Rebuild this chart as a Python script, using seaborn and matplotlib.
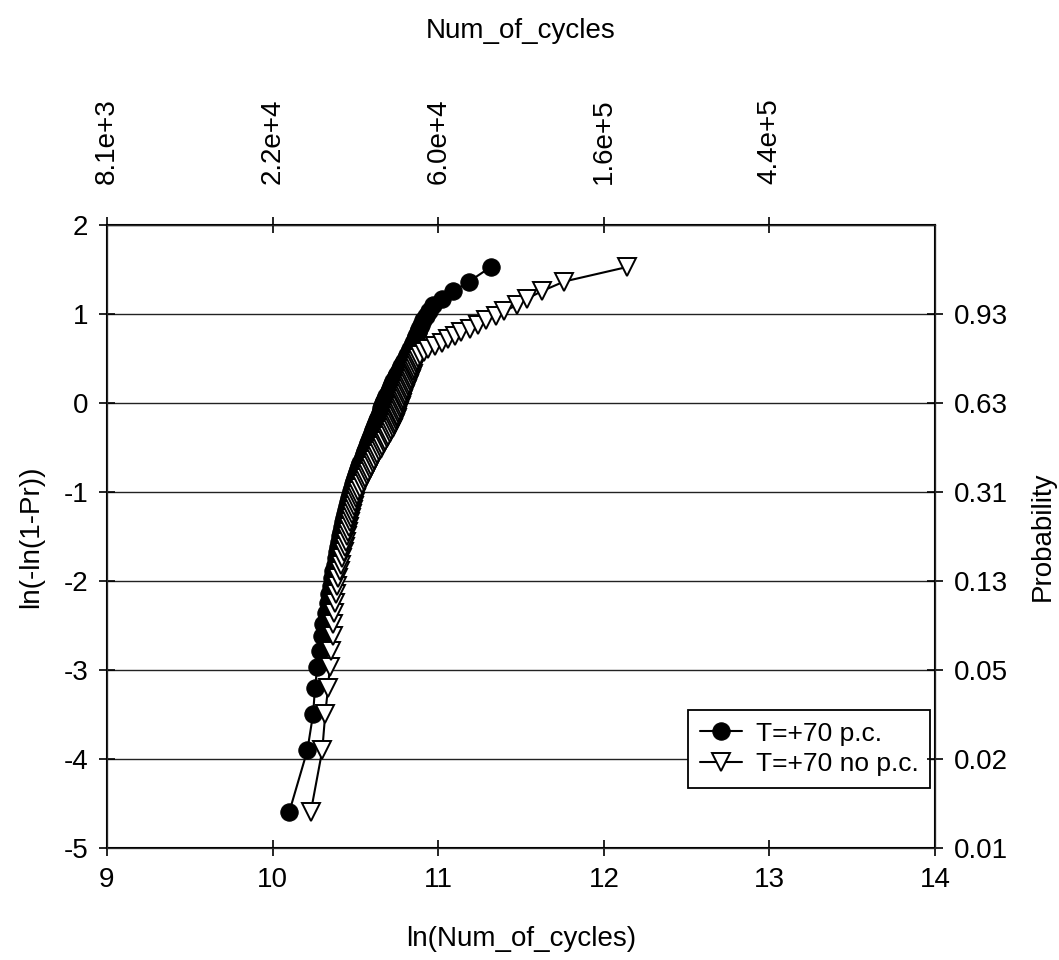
import numpy as np
import pandas as pd
import matplotlib
matplotlib.use("Agg")
import matplotlib.pyplot as plt
import seaborn as sns

# Weibull plotting positions ln(-ln(1-Pr)) shared by both series (99 points)
y_vals = [
    -4.600, -3.902, -3.491, -3.199, -2.970, -2.783, -2.623, -2.484, -2.361, -2.250,
    -2.150, -2.057, -1.971, -1.892, -1.817, -1.747, -1.680, -1.617, -1.557, -1.500,
    -1.445, -1.392, -1.342, -1.293, -1.246, -1.200, -1.156, -1.113, -1.071, -1.031,
    -0.991, -0.953, -0.915, -0.878, -0.842, -0.807, -0.772, -0.738, -0.705, -0.672,
    -0.639, -0.608, -0.576, -0.545, -0.514, -0.484, -0.454, -0.425, -0.396, -0.367,
    -0.338, -0.309, -0.281, -0.253, -0.225, -0.197, -0.170, -0.142, -0.115, -0.087,
    -0.060, -0.033, -0.006, 0.021, 0.049, 0.076, 0.103, 0.131, 0.158, 0.186,
    0.213, 0.241, 0.270, 0.298, 0.327, 0.356, 0.385, 0.415, 0.445, 0.476,
    0.507, 0.539, 0.572, 0.606, 0.640, 0.676, 0.713, 0.752, 0.792, 0.834,
    0.879, 0.927, 0.978, 1.034, 1.097, 1.169, 1.255, 1.364, 1.527,
]

# ln(Num_of_cycles), T=+70 p.c.
x_pc = [
    10.100, 10.210, 10.245, 10.256, 10.270, 10.286, 10.296, 10.306, 10.320, 10.332,
    10.342, 10.352, 10.360, 10.367, 10.374, 10.381, 10.388, 10.394, 10.400, 10.407,
    10.413, 10.419, 10.425, 10.431, 10.437, 10.443, 10.449, 10.455, 10.461, 10.467,
    10.473, 10.479, 10.485, 10.491, 10.497, 10.503, 10.510, 10.516, 10.523, 10.530,
    10.537, 10.544, 10.551, 10.558, 10.565, 10.572, 10.579, 10.585, 10.591, 10.597,
    10.603, 10.609, 10.615, 10.620, 10.626, 10.631, 10.637, 10.642, 10.647, 10.652,
    10.657, 10.662, 10.667, 10.673, 10.680, 10.687, 10.694, 10.701, 10.708, 10.715,
    10.722, 10.729, 10.737, 10.745, 10.753, 10.761, 10.769, 10.777, 10.786, 10.795,
    10.804, 10.813, 10.822, 10.831, 10.840, 10.849, 10.858, 10.867, 10.877, 10.887,
    10.898, 10.910, 10.925, 10.945, 10.970, 11.020, 11.090, 11.186, 11.317,
]

# ln(Num_of_cycles), T=+70 no p.c.
x_nopc = [
    10.230, 10.300, 10.318, 10.335, 10.345, 10.355, 10.362, 10.367, 10.372, 10.377,
    10.382, 10.388, 10.395, 10.404, 10.413, 10.421, 10.429, 10.436, 10.443, 10.450,
    10.457, 10.463, 10.469, 10.475, 10.481, 10.487, 10.492, 10.498, 10.503, 10.508,
    10.518, 10.529, 10.539, 10.549, 10.559, 10.569, 10.578, 10.588, 10.597, 10.606,
    10.615, 10.624, 10.633, 10.642, 10.652, 10.662, 10.671, 10.680, 10.690, 10.699,
    10.708, 10.717, 10.726, 10.733, 10.739, 10.744, 10.749, 10.754, 10.759, 10.764,
    10.769, 10.774, 10.779, 10.784, 10.790, 10.795, 10.801, 10.806, 10.812, 10.817,
    10.822, 10.828, 10.834, 10.840, 10.845, 10.850, 10.855, 10.860, 10.866, 10.872,
    10.880, 10.892, 10.912, 10.940, 10.980, 11.020, 11.060, 11.100, 11.140, 11.190,
    11.240, 11.290, 11.350, 11.400, 11.474, 11.534, 11.625, 11.760, 12.140,
]

series_names = ["T=+70 p.c.", "T=+70 no p.c."]
x_ticks = [9, 10, 11, 12, 13, 14]
y_ticks = [-5, -4, -3, -2, -1, 0, 1, 2]
top_ticks = [9, 10, 11, 12, 13]
top_labels = ["8.1e+3", "2.2e+4", "6.0e+4", "1.6e+5", "4.4e+5"]
prob_ticks = [-5, -4, -3, -2, -1, 0, 1]
prob_labels = ["0.01", "0.02", "0.05", "0.13", "0.31", "0.63", "0.93"]

sns.set_style("white")
plt.rcParams["font.family"] = ["Liberation Sans", "DejaVu Sans"]
plt.rcParams["axes.unicode_minus"] = False
plt.rcParams["text.color"] = "black"
plt.rcParams["axes.labelcolor"] = "black"
plt.rcParams["xtick.color"] = "black"
plt.rcParams["ytick.color"] = "black"
FS = 20

df = pd.DataFrame({
    "x": x_pc + x_nopc,
    "y": y_vals + y_vals,
    "series": [series_names[0]] * len(x_pc) + [series_names[1]] * len(x_nopc),
})

fig = plt.figure(figsize=(10.59, 9.60), dpi=100)
ax = fig.add_axes([0.101, 0.1167, 0.782, 0.649])

sns.lineplot(data=df[df["series"] == series_names[0]], x="x", y="y",
             sort=False, estimator=None, color="black", linewidth=1.5,
             marker="o", markersize=12.5, markerfacecolor="black",
             markeredgecolor="black", label=series_names[0], ax=ax, zorder=3)
sns.lineplot(data=df[df["series"] == series_names[1]], x="x", y="y",
             sort=False, estimator=None, color="black", linewidth=1.5,
             marker="v", markersize=12.5, markerfacecolor="white",
             markeredgecolor="black", markeredgewidth=1.4,
             label=series_names[1], ax=ax, zorder=4)

ax.set_xlim(9, 14)
ax.set_ylim(-5, 2)
ax.set_xticks(x_ticks)
ax.set_yticks(y_ticks)
ax.set_xlabel("ln(Num_of_cycles)", fontsize=FS, labelpad=24)
ax.set_ylabel("ln(-ln(1-Pr))", fontsize=FS, labelpad=14)
ax.tick_params(axis="both", direction="inout", length=11, width=1.2,
               labelsize=FS, color="black", labelcolor="black")
ax.tick_params(axis="x", pad=8)
ax.tick_params(axis="y", pad=8)
ax.grid(axis="y", color="#222222", linewidth=1.0)
ax.grid(axis="x", visible=False)
for s in ax.spines.values():
    s.set_color("black")
    s.set_linewidth(1.5)

leg = ax.legend(loc="lower right", bbox_to_anchor=(0.994, 0.096),
                fontsize=19, frameon=True, fancybox=False, edgecolor="black",
                framealpha=1, borderaxespad=0, handlelength=1.6,
                handletextpad=0.5, borderpad=0.45, labelspacing=0.25)
leg.get_frame().set_linewidth(1.3)

ax_top = ax.twiny()
ax_top.set_xlim(9, 14)
ax_top.set_xticks(top_ticks)
ax_top.set_xticklabels(top_labels, rotation=90)
ax_top.tick_params(axis="x", direction="inout", length=11, width=1.2,
                   labelsize=FS, pad=24, color="black", labelcolor="black")
ax_top.set_xlabel("Num_of_cycles", fontsize=FS, labelpad=43)
ax_top.grid(False)

ax_right = ax.twinx()
ax_right.set_ylim(-5, 2)
ax_right.set_yticks(prob_ticks)
ax_right.set_yticklabels(prob_labels)
ax_right.tick_params(axis="y", direction="inout", length=11, width=1.2,
                     labelsize=FS, pad=8, color="black", labelcolor="black")
ax_right.set_ylabel("Probability", fontsize=FS, labelpad=16)
ax_right.grid(False)

fig.savefig("out.png", dpi=100)
